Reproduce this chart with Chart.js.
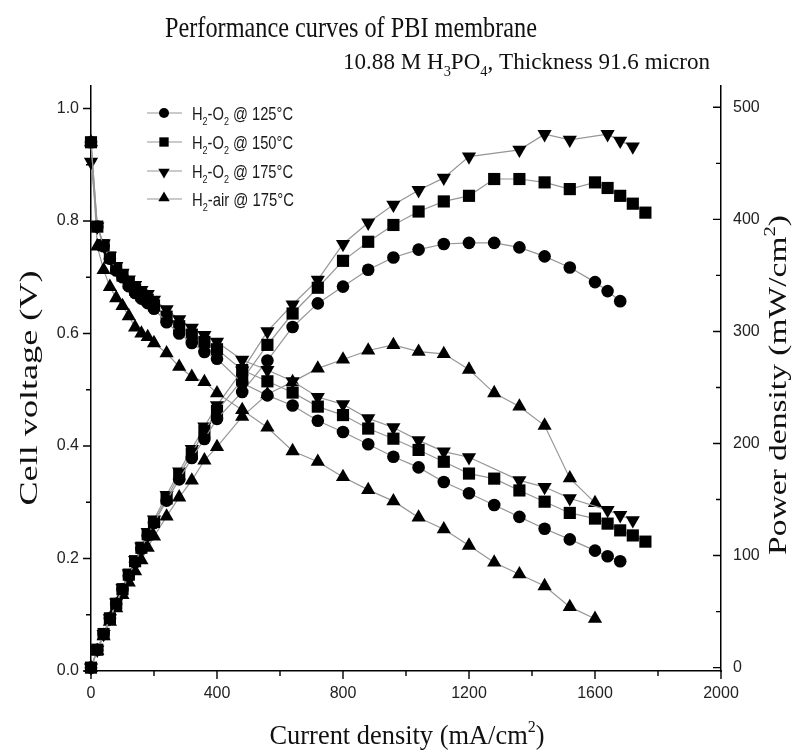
<!DOCTYPE html>
<html>
<head>
<meta charset="utf-8">
<title>Performance curves of PBI membrane</title>
<script src="https://cdn.jsdelivr.net/npm/chart.js@4.4.1/dist/chart.umd.min.js"></script>
<style>
  body { margin: 0; background: #fff; }
  canvas { display: block; }
</style>
</head>
<body>
<canvas id="pbi" width="798" height="752"></canvas>
<script>
// current density (mA/cm2) for each run
const cur_125 = [0,20,40,60,80,100,120,140,160,180,200,240,280,320,360,400,480,560,640,720,800,880,960,1040,1120,1200,1280,1360,1440,1520,1600,1640,1680];
const cur_150 = [0,20,40,60,80,100,120,140,160,180,200,240,280,320,360,400,480,560,640,720,800,880,960,1040,1120,1200,1280,1360,1440,1520,1600,1640,1680,1720,1760];
const cur_175 = [0,20,40,60,80,100,120,140,160,180,200,240,280,320,360,400,480,560,640,720,800,880,960,1040,1120,1200,1360,1440,1520,1640,1680,1720];
const cur_air = [0,20,40,60,80,100,120,140,160,180,200,240,280,320,360,400,480,560,640,720,800,880,960,1040,1120,1200,1280,1360,1440,1520,1600];

// cell voltage (V)
const volt_125 = [0.94,0.79,0.755,0.733,0.712,0.700,0.684,0.672,0.662,0.654,0.644,0.620,0.600,0.583,0.567,0.555,0.512,0.490,0.472,0.445,0.425,0.403,0.381,0.362,0.336,0.316,0.295,0.274,0.253,0.234,0.214,0.204,0.195];
const volt_150 = [0.94,0.79,0.757,0.735,0.716,0.703,0.690,0.678,0.668,0.660,0.650,0.630,0.613,0.598,0.585,0.572,0.535,0.515,0.495,0.470,0.455,0.431,0.413,0.393,0.372,0.351,0.342,0.321,0.301,0.281,0.271,0.262,0.250,0.241,0.230];
const volt_175 = [0.905,0.79,0.76,0.738,0.720,0.708,0.696,0.686,0.677,0.670,0.660,0.643,0.625,0.610,0.597,0.585,0.553,0.535,0.515,0.487,0.474,0.449,0.433,0.410,0.390,0.380,0.339,0.327,0.307,0.286,0.277,0.268];
const volt_air = [0.94,0.755,0.713,0.683,0.663,0.649,0.631,0.611,0.600,0.594,0.583,0.565,0.541,0.523,0.514,0.494,0.464,0.433,0.391,0.372,0.345,0.322,0.302,0.273,0.252,0.223,0.193,0.172,0.151,0.114,0.093];

// power density (mW/cm2)
const pow_125 = [0,16,30,44,57,70,82,94,106,118,129,149,168,187,204,222,246,274,304,325,340,355,366,373,378,379,379,375,367,357,344,336,327];
const pow_150 = [0,16,30,44,57,70,83,95,107,119,130,151,172,191,211,229,257,288,316,339,363,380,395,407,416,421,436,436,433,427,433,428,421,414,406];
const pow_175 = [0,16,30,44,58,71,84,96,108,121,132,154,175,195,215,234,265,300,324,346,378,397,413,426,437,456,462,476,471,476,470,465];
const pow_air = [0,15,28,41,53,65,76,86,96,107,117,135,152,167,185,197,224,244,255,267,275,283,288,282,280,266,245,233,216,169,147];

// legend text pieces: [text, 0 normal / 1 subscript]
const legendLabels = [
  [["H",0],["2",1],["-O",0],["2",1],[" @ 125°C",0]],
  [["H",0],["2",1],["-O",0],["2",1],[" @ 150°C",0]],
  [["H",0],["2",1],["-O",0],["2",1],[" @ 175°C",0]],
  [["H",0],["2",1],["-air @ 175°C",0]]
];
const markers = [
  { pointStyle: "circle", radius: 6.3, rotation: 0 },
  { pointStyle: "rect", radius: 8.6, rotation: 0 },
  { pointStyle: "triangle", radius: 8.2, rotation: 180 },
  { pointStyle: "triangle", radius: 8.2, rotation: 0 }
];

const pts = (xs, ys) => xs.map((x, i) => ({ x: x, y: ys[i] }));

function makeSet(label, data, axis, m) {
  return {
    label: label,
    data: data,
    yAxisID: axis,
    borderColor: "#969696",
    borderWidth: 1.2,
    tension: 0,
    clip: false,
    pointStyle: m.pointStyle,
    pointRadius: m.radius,
    pointRotation: m.rotation,
    pointBackgroundColor: "#000",
    pointBorderWidth: 0,
    pointHoverRadius: m.radius
  };
}

// text with sub/superscripts, optionally squeezed to a target length
function richText(ctx, parts, o) {
  ctx.save();
  const small = Math.round(o.size * 0.62);
  const fontFor = (m) => (m ? small : o.size) + "px " + o.family;
  let w = 0;
  parts.forEach(([t, m]) => { ctx.font = fontFor(m); w += ctx.measureText(t).width; });
  const k = o.width ? o.width / w : 1;
  ctx.translate(o.x, o.y);
  if (o.rot) ctx.rotate(o.rot);
  ctx.scale(k, 1);
  ctx.fillStyle = o.color || "#111";
  ctx.textBaseline = "alphabetic";
  ctx.textAlign = "left";
  let x = o.align === "left" ? 0 : -w / 2;
  parts.forEach(([t, m]) => {
    ctx.font = fontFor(m);
    const dy = m === 1 ? o.size * 0.3 : m === 2 ? -o.size * 0.42 : 0;
    ctx.fillText(t, x, dy);
    x += ctx.measureText(t).width;
  });
  ctx.restore();
}

const serif = "'Liberation Serif', 'Times New Roman', serif";
const sans = "'Liberation Sans', Arial, sans-serif";

const frame = {
  id: "frame",
  afterDraw(chart) {
    const ctx = chart.ctx;
    const { x, y, y1 } = chart.scales;
    ctx.save();
    ctx.strokeStyle = "#000";
    ctx.lineWidth = 1.4;
    ctx.beginPath();
    // bottom ticks, outward
    for (let v = 0; v <= 2000; v += 200) {
      const px = x.getPixelForValue(v);
      const len = v % 400 === 0 ? 8 : 5;
      ctx.moveTo(px, x.top); ctx.lineTo(px, x.top + len);
    }
    // left ticks, outward
    for (let i = 0; i <= 10; i++) {
      const py = y.getPixelForValue(i / 10);
      const len = i % 2 === 0 ? 8 : 5;
      ctx.moveTo(y.right, py); ctx.lineTo(y.right - len, py);
    }
    // right ticks, inward
    for (let v = 0; v <= 500; v += 50) {
      const py = y1.getPixelForValue(v);
      const len = v % 100 === 0 ? 8 : 5;
      ctx.moveTo(y1.left, py); ctx.lineTo(y1.left - len, py);
    }
    ctx.stroke();
    ctx.restore();

    // titles
    richText(ctx, [["Performance curves of PBI membrane", 0]],
      { x: 351, y: 37, size: 29, family: serif, width: 372 });
    richText(ctx, [["10.88 M H", 0], ["3", 1], ["PO", 0], ["4", 1], [", Thickness 91.6 micron", 0]],
      { x: 343, y: 69, size: 24, family: serif, width: 367, align: "left" });
    richText(ctx, [["Current density (mA/cm", 0], ["2", 2], [")", 0]],
      { x: 407, y: 744, size: 28, family: serif, width: 275 });
    richText(ctx, [["Cell voltage (V)", 0]],
      { x: 37, y: 388, size: 26, family: serif, width: 235, rot: -Math.PI / 2 });
    richText(ctx, [["Power density (mW/cm", 0], ["2", 2], [")", 0]],
      { x: 786, y: 385, size: 26, family: serif, width: 340, rot: -Math.PI / 2 });

    // legend
    const rows = [113, 142, 171, 199];
    const legendMarks = [
      { pointStyle: "circle", radius: 5, rotation: 0, borderWidth: 0 },
      { pointStyle: "rect", radius: 6.6, rotation: 0, borderWidth: 0 },
      { pointStyle: "triangle", radius: 6.6, rotation: 180, borderWidth: 0 },
      { pointStyle: "triangle", radius: 6.6, rotation: 0, borderWidth: 0 }
    ];
    rows.forEach((ry, i) => {
      ctx.save();
      ctx.strokeStyle = "#969696";
      ctx.lineWidth = 1.2;
      ctx.beginPath();
      ctx.moveTo(147, ry); ctx.lineTo(182, ry);
      ctx.stroke();
      ctx.fillStyle = "#000";
      Chart.helpers.drawPoint(ctx, legendMarks[i], 164, ry + (i === 2 ? 1 : i === 3 ? -1 : 0));
      ctx.restore();
      richText(ctx, legendLabels[i],
        { x: 192, y: ry + 7, size: 18, family: sans, width: i === 3 ? 102 : 101, align: "left", color: "#1a1a1a" });
    });
  }
};

const tickFont = { family: sans, size: 16 };

const config = {
  type: "line",
  data: {
    datasets: [
      makeSet("V 125", pts(cur_125, volt_125), "y", markers[0]),
      makeSet("V 150", pts(cur_150, volt_150), "y", markers[1]),
      makeSet("V 175", pts(cur_175, volt_175), "y", markers[2]),
      makeSet("V air", pts(cur_air, volt_air), "y", markers[3]),
      makeSet("P 125", pts(cur_125, pow_125), "y1", markers[0]),
      makeSet("P 150", pts(cur_150, pow_150), "y1", markers[1]),
      makeSet("P 175", pts(cur_175, pow_175), "y1", markers[2]),
      makeSet("P air", pts(cur_air, pow_air), "y1", markers[3])
    ]
  },
  options: {
    responsive: false,
    animation: false,
    events: [],
    layout: { padding: { top: 86, left: 0, right: 0, bottom: 0 } },
    plugins: {
      legend: { display: false },
      title: { display: false },
      tooltip: { enabled: false }
    },
    scales: {
      x: {
        type: "linear",
        min: 0,
        max: 2000,
        ticks: { stepSize: 400, padding: 13, maxRotation: 0, font: tickFont, color: "#222", callback: (v) => String(v) },
        grid: { display: false, drawTicks: false },
        border: { display: true, color: "#000", width: 1.5 },
        afterFit: (s) => { s.height = 81; }
      },
      y: {
        position: "left",
        min: 0,
        max: 1.04,
        ticks: { stepSize: 0.2, includeBounds: false, padding: 12, font: tickFont, color: "#222", callback: (v) => v.toFixed(1) },
        grid: { display: false, drawTicks: false },
        border: { display: true, color: "#000", width: 1.5 },
        afterFit: (s) => { s.width = 91; }
      },
      y1: {
        position: "right",
        min: -3,
        max: 519,
        ticks: { stepSize: 100, includeBounds: false, padding: 12, font: tickFont, color: "#222", callback: (v) => String(v) },
        grid: { display: false, drawTicks: false },
        border: { display: true, color: "#000", width: 1.5 },
        afterFit: (s) => { s.width = 77; }
      }
    }
  },
  plugins: [frame]
};

const pbiChart = new Chart(document.getElementById("pbi"), config);
</script>
</body>
</html>
